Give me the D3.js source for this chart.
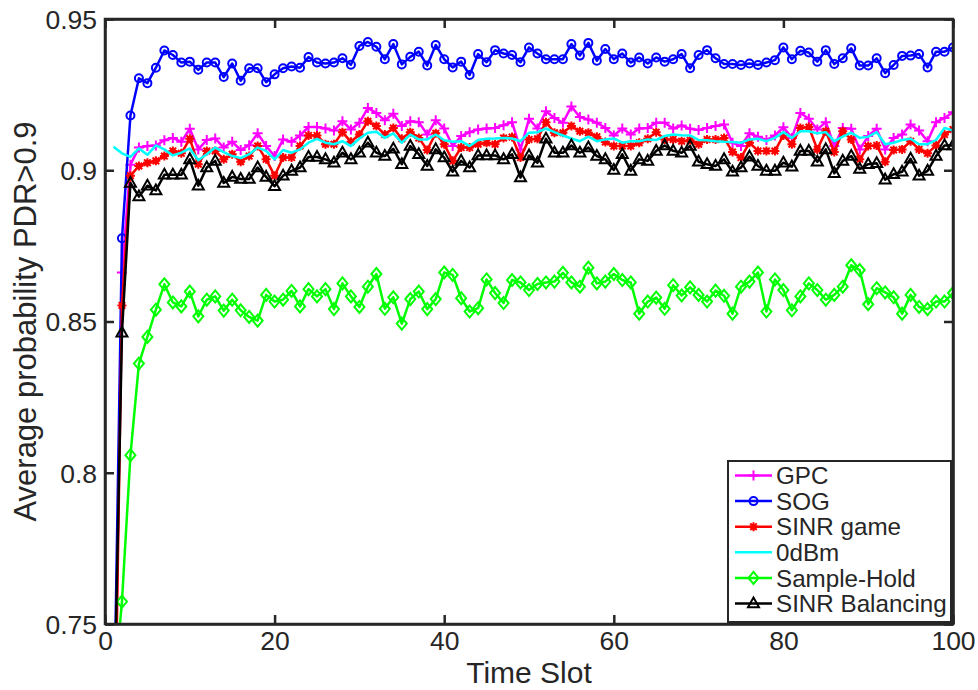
<!DOCTYPE html>
<html><head><meta charset="utf-8">
<script src="https://cdn.jsdelivr.net/npm/d3@7"></script>
<style>body{margin:0;background:#fff}svg{display:block}text{font-family:"Liberation Sans",Arial,Helvetica,sans-serif;fill:#262626}</style>
</head><body><svg id="c" width="978" height="690"></svg>
<script>
const seriesNames = ["GPC","SOG","SINR game","0dBm","Sample-Hold","SINR Balancing"];
const xTicks = [0,20,40,60,80,100];
const yTicks = [0.75,0.8,0.85,0.9,0.95];
const yTickLabels = ["0.75","0.8","0.85","0.9","0.95"];
const gpc = [0.687,0.8662,0.9018,0.9075,0.9080,0.9082,0.9099,0.9107,0.9094,0.9137,0.9069,0.9100,0.9105,0.9075,0.9094,0.9067,0.9083,0.9122,0.9080,0.9047,0.9102,0.9094,0.9115,0.9143,0.9143,0.9138,0.9131,0.9162,0.9135,0.9157,0.9206,0.9189,0.9165,0.9187,0.9146,0.9162,0.9159,0.9118,0.9165,0.9138,0.9080,0.9113,0.9126,0.9135,0.9138,0.9140,0.9149,0.9159,0.9069,0.9170,0.9138,0.9195,0.9173,0.9157,0.9211,0.9176,0.9168,0.9157,0.9140,0.9115,0.9138,0.9118,0.9138,0.9140,0.9157,0.9157,0.9138,0.9148,0.9137,0.9133,0.9140,0.9146,0.9151,0.9091,0.9080,0.9122,0.9111,0.9100,0.9115,0.9142,0.9107,0.9189,0.9170,0.9135,0.9159,0.9080,0.9140,0.9137,0.9069,0.9113,0.9137,0.9069,0.9107,0.9118,0.9151,0.9131,0.9096,0.9159,0.9173,0.9192];
const sog = [0.7075,0.8775,0.9181,0.9304,0.9288,0.9339,0.9396,0.9381,0.9356,0.9359,0.9332,0.9356,0.9356,0.9308,0.9353,0.9296,0.9337,0.9337,0.9291,0.9317,0.9337,0.9343,0.9339,0.9374,0.9356,0.9353,0.9356,0.9370,0.9349,0.9411,0.9424,0.9408,0.9367,0.9417,0.9350,0.9375,0.9392,0.9346,0.9414,0.9367,0.9340,0.9359,0.9315,0.9384,0.9357,0.9397,0.9386,0.9381,0.9357,0.9406,0.9386,0.9367,0.9367,0.9367,0.9417,0.9379,0.9421,0.9362,0.9401,0.9367,0.9386,0.9356,0.9373,0.9353,0.9373,0.9359,0.9367,0.9384,0.9337,0.9381,0.9397,0.9370,0.9351,0.9351,0.9348,0.9353,0.9348,0.9356,0.9364,0.9406,0.9367,0.9395,0.9389,0.9359,0.9397,0.9351,0.9370,0.9403,0.9346,0.9346,0.9370,0.9321,0.9348,0.9378,0.9379,0.9384,0.9340,0.9392,0.9392,0.9406];
const sinrGame = [0.680,0.8553,0.8982,0.9014,0.9025,0.9031,0.9047,0.9064,0.9056,0.9104,0.9020,0.9064,0.9064,0.9036,0.9053,0.9028,0.9047,0.9080,0.9036,0.8982,0.9042,0.9042,0.9080,0.9115,0.9115,0.9086,0.9086,0.9126,0.9094,0.9118,0.9162,0.9146,0.9118,0.9140,0.9104,0.9126,0.9107,0.9067,0.9122,0.9086,0.9031,0.9075,0.9075,0.9086,0.9091,0.9086,0.9107,0.9110,0.9042,0.9102,0.9104,0.9159,0.9124,0.9124,0.9146,0.9129,0.9124,0.9111,0.9093,0.9080,0.9080,0.9080,0.9091,0.9104,0.9126,0.9102,0.9102,0.9096,0.9099,0.9086,0.9102,0.9102,0.9107,0.9060,0.9042,0.9091,0.9064,0.9064,0.9064,0.9115,0.9086,0.9140,0.9143,0.9069,0.9129,0.9060,0.9129,0.9102,0.9036,0.9080,0.9082,0.9028,0.9067,0.9069,0.9096,0.9069,0.9056,0.9082,0.9118,0.9135];
const dbm0 = [0.9078,0.9056,0.9044,0.9072,0.9051,0.9082,0.9069,0.9049,0.9058,0.9072,0.9033,0.9053,0.9075,0.9060,0.9047,0.9040,0.9053,0.9075,0.9064,0.9036,0.9067,0.9058,0.9069,0.9091,0.9104,0.9091,0.9086,0.9096,0.9080,0.9105,0.9124,0.9127,0.9107,0.9122,0.9091,0.9118,0.9102,0.9102,0.9118,0.9099,0.9094,0.9096,0.9080,0.9100,0.9104,0.9105,0.9107,0.9105,0.9096,0.9124,0.9126,0.9138,0.9126,0.9115,0.9105,0.9096,0.9111,0.9096,0.9102,0.9105,0.9091,0.9096,0.9096,0.9102,0.9100,0.9113,0.9118,0.9116,0.9115,0.9100,0.9099,0.9096,0.9094,0.9093,0.9091,0.9102,0.9104,0.9096,0.9107,0.9126,0.9107,0.9129,0.9129,0.9122,0.9126,0.9096,0.9111,0.9124,0.9107,0.9111,0.9126,0.9086,0.9091,0.9100,0.9104,0.9086,0.9086,0.9100,0.9140,0.9131];
const sampleHold = [0.726,0.7574,0.8058,0.8361,0.8449,0.8539,0.8623,0.8563,0.8550,0.8599,0.8517,0.8572,0.8583,0.8536,0.8572,0.8537,0.8515,0.8503,0.8588,0.8566,0.8572,0.8601,0.8550,0.8607,0.8583,0.8607,0.8541,0.8626,0.8583,0.8548,0.8615,0.8657,0.8542,0.8580,0.8493,0.8574,0.8599,0.8541,0.8574,0.8662,0.8654,0.8577,0.8533,0.8544,0.8639,0.8594,0.8561,0.8637,0.8629,0.8604,0.8624,0.8629,0.8632,0.8661,0.8629,0.8615,0.8678,0.8626,0.8632,0.8657,0.8637,0.8629,0.8526,0.8566,0.8579,0.8542,0.8620,0.8586,0.8613,0.8588,0.8566,0.8602,0.8585,0.8526,0.8615,0.8632,0.8662,0.8533,0.8639,0.8604,0.8537,0.8583,0.8626,0.8604,0.8572,0.8588,0.8615,0.8686,0.8670,0.8557,0.8610,0.8596,0.8580,0.8526,0.8588,0.8548,0.8541,0.8566,0.8566,0.8594];
const sinrBal = [0.709,0.8463,0.8958,0.8913,0.8949,0.8933,0.8985,0.8985,0.8985,0.9036,0.8949,0.9009,0.9031,0.8958,0.8978,0.8971,0.8971,0.9009,0.8978,0.8947,0.8982,0.8998,0.9009,0.9044,0.9044,0.9036,0.9025,0.9058,0.9036,0.9058,0.9091,0.9058,0.9047,0.9071,0.9020,0.9080,0.9053,0.9014,0.9069,0.9042,0.8995,0.9031,0.9009,0.9049,0.9049,0.9049,0.9036,0.9053,0.8976,0.9049,0.9025,0.9104,0.9058,0.9058,0.9082,0.9058,0.9075,0.9047,0.9036,0.9001,0.9053,0.8998,0.9036,0.9031,0.9064,0.9082,0.9064,0.9058,0.9080,0.9028,0.9020,0.9014,0.9036,0.8995,0.9009,0.9045,0.9014,0.8998,0.8998,0.9025,0.9012,0.9064,0.9064,0.9028,0.9069,0.8990,0.9031,0.9047,0.9004,0.9020,0.9023,0.8969,0.8987,0.8995,0.9038,0.8982,0.8998,0.9047,0.9082,0.9082];

const series = [
  {name:seriesNames[0], values:gpc, color:"#ff00ff", marker:"plus"},
  {name:seriesNames[1], values:sog, color:"#0000ff", marker:"circle"},
  {name:seriesNames[2], values:sinrGame, color:"#ff0000", marker:"star"},
  {name:seriesNames[3], values:dbm0, color:"#00ffff", marker:"none"},
  {name:seriesNames[4], values:sampleHold, color:"#00ff00", marker:"diamond"},
  {name:seriesNames[5], values:sinrBal, color:"#000000", marker:"triangle"}
];

const W=978,H=690, m={l:105,t:19,r:25,b:66};
const iw=W-m.l-m.r, ih=H-m.t-m.b;
const svg=d3.select("#c");
const x=d3.scaleLinear().domain([0,100]).range([0,iw]);
const y=d3.scaleLinear().domain([0.75,0.95]).range([ih,0]);
const g=svg.append("g").attr("transform",`translate(${m.l},${m.t})`);
svg.append("defs").append("clipPath").attr("id","clip").append("rect").attr("width",iw).attr("height",ih);

function markerPath(type){
  switch(type){
    case "plus": return "M-5,0H5M0,-5V5";
    case "star": return "M-4.5,0H4.5M0,-4.5V4.5M-3.3,-3.3L3.3,3.3M-3.3,3.3L3.3,-3.3";
    case "diamond": return "M0,-6L5,0L0,6L-5,0Z";
    case "triangle": return "M0,-6L5.5,3.8L-5.5,3.8Z";
    default: return null;
  }
}
function drawMarker(sel,s){
  if(s.marker==="circle"){
    sel.append("circle").attr("r",4).attr("fill","none").attr("stroke",s.color).attr("stroke-width",2);
  } else if(s.marker==="star"){
    sel.append("circle").attr("r",3).attr("fill",s.color);
    sel.append("path").attr("d",markerPath("star")).attr("fill","none").attr("stroke",s.color).attr("stroke-width",2);
  } else if(s.marker!=="none"){
    sel.append("path").attr("d",markerPath(s.marker)).attr("fill","none").attr("stroke",s.color).attr("stroke-width",2);
  }
}

const plot=g.append("g").attr("clip-path","url(#clip)");
const line=d3.line().x((d,i)=>x(i+1)).y(d=>y(d));
series.forEach(s=>{
  plot.append("path").datum(s.values).attr("d",line).attr("fill","none").attr("stroke",s.color).attr("stroke-width",2.5).attr("stroke-linejoin","round");
  if(s.marker!=="none"){
    const mg=plot.append("g");
    s.values.forEach((v,i)=>{
      const mk=mg.append("g").attr("transform",`translate(${x(i+1)},${y(v)})`);
      drawMarker(mk,s);
    });
  }
});

// axes
const axCol="#262626";
const xb=g.append("g").attr("transform",`translate(0,${ih})`).call(d3.axisBottom(x).tickValues(xTicks).tickSizeInner(-9).tickSizeOuter(0).tickPadding(7));
const xt=g.append("g").call(d3.axisTop(x).tickValues(xTicks).tickSizeInner(-9).tickSizeOuter(0).tickFormat(""));
const yl=g.append("g").call(d3.axisLeft(y).tickValues(yTicks).tickSizeInner(-9).tickSizeOuter(0).tickPadding(8).tickFormat((d,i)=>yTickLabels[i]));
const yr=g.append("g").attr("transform",`translate(${iw},0)`).call(d3.axisRight(y).tickValues(yTicks).tickSizeInner(-9).tickSizeOuter(0).tickFormat(""));
[xb,xt,yl,yr].forEach(a=>{a.select(".domain").attr("stroke",axCol).attr("stroke-width",2.5);a.selectAll(".tick line").attr("stroke",axCol).attr("stroke-width",2.5);});
xb.selectAll(".tick text").attr("font-size",26.5).attr("fill",axCol).attr("dy","0.71em");
yl.selectAll(".tick text").attr("font-size",26.5).attr("fill",axCol).attr("dy","0.35em");
g.append("rect").attr("width",iw).attr("height",ih).attr("fill","none").attr("stroke",axCol).attr("stroke-width",2.5);

svg.append("text").attr("x",m.l+iw/2).attr("y",683).attr("text-anchor","middle").attr("font-size",30).text("Time Slot");
svg.append("text").attr("transform",`translate(36,${m.t+ih/2}) rotate(-90)`).attr("text-anchor","middle").attr("font-size",31).text("Average probability PDR>0.9");

// legend
const lg=svg.append("g").attr("transform",`translate(728,461)`);
lg.append("rect").attr("width",223).attr("height",161).attr("fill","#fff").attr("stroke",axCol).attr("stroke-width",2);
series.forEach((s,i)=>{
  const row=lg.append("g").attr("transform",`translate(0,${14.5+i*25.6})`);
  row.append("line").attr("x1",7).attr("x2",44).attr("stroke",s.color).attr("stroke-width",2.5);
  const mk=row.append("g").attr("transform","translate(25.5,0)");
  drawMarker(mk,s);
  row.append("text").attr("x",48).attr("y",0).attr("dy","0.36em").attr("font-size",24.2).attr("fill","#000").text(s.name);
});
</script></body></html>
